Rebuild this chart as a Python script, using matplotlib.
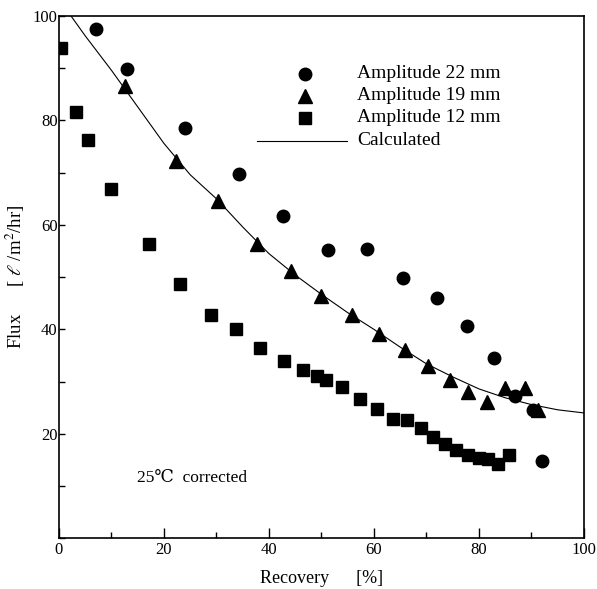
import matplotlib.pyplot as plt
from matplotlib.ticker import MultipleLocator

plt.rcParams['font.family'] = ['Liberation Serif', 'DejaVu Serif']
plt.rcParams['mathtext.fontset'] = 'stix'

# Amplitude 22 mm (circles)
amp22_x = [7.0, 12.9, 24.0, 34.3, 42.7, 51.3, 58.7, 65.5, 72.0, 77.7, 82.8, 86.9, 90.3, 92.0]
amp22_y = [97.6, 89.9, 78.5, 69.7, 61.8, 55.2, 55.3, 49.9, 46.0, 40.7, 34.5, 27.2, 24.5, 14.8]

# Amplitude 19 mm (triangles)
amp19_x = [12.6, 22.2, 30.3, 37.7, 44.1, 50.0, 55.9, 61.0, 65.9, 70.2, 74.5, 78.0, 81.6, 85.0, 88.8, 91.3]
amp19_y = [86.6, 72.3, 64.6, 56.4, 51.1, 46.4, 42.7, 39.2, 36.0, 32.9, 30.4, 28.1, 26.0, 28.7, 28.7, 24.5]

# Amplitude 12 mm (squares)
amp12_x = [0.4, 3.2, 5.6, 9.9, 17.1, 23.1, 28.9, 33.7, 38.3, 42.8, 46.5, 49.1, 50.9, 54.0,
           57.3, 60.5, 63.7, 66.2, 68.9, 71.3, 73.5, 75.6, 78.0, 80.0, 81.8, 83.7, 85.7]
amp12_y = [93.8, 81.7, 76.3, 66.8, 56.3, 48.6, 42.8, 40.0, 36.5, 33.9, 32.3, 31.0, 30.4, 28.9,
           26.6, 24.7, 22.8, 22.7, 21.2, 19.3, 18.1, 16.9, 15.9, 15.4, 15.1, 14.2, 15.9]

# Calculated curve
calc_x = [2.3, 5, 10, 15, 20, 25, 30, 35, 40, 45, 50, 55, 60, 65, 70, 75, 80, 85, 90, 95, 100]
calc_y = [100, 96.2, 89.6, 82.6, 75.6, 69.6, 65.0, 59.6, 54.5, 50.4, 46.7, 43.2, 40.0,
          36.6, 33.4, 30.9, 28.6, 26.9, 25.6, 24.6, 24.0]

fig = plt.figure(figsize=(5.97, 5.89), dpi=100)
ax = fig.add_axes([0.0988, 0.0861, 0.8794, 0.8867])

ax.plot(calc_x, calc_y, '-', color='black', linewidth=0.8)
ax.plot(amp22_x, amp22_y, 'o', color='black', markersize=9)
ax.plot(amp19_x, amp19_y, '^', color='black', markersize=9.5)
ax.plot(amp12_x, amp12_y, 's', color='black', markersize=8)

ax.set_xlim(0, 100)
ax.set_ylim(0, 100)
ax.xaxis.set_major_locator(MultipleLocator(20))
ax.xaxis.set_minor_locator(MultipleLocator(10))
ax.yaxis.set_minor_locator(MultipleLocator(10))
ax.set_yticks([20, 40, 60, 80, 100])
ax.tick_params(axis='x', which='major', direction='in', length=7, width=1, labelsize=12, pad=3)
ax.tick_params(axis='x', which='minor', direction='in', length=4, width=1)
ax.tick_params(axis='y', which='major', direction='in', length=4, width=1, labelsize=12, pad=1)
ax.tick_params(axis='y', which='minor', direction='in', length=4, width=1)
for s in ax.spines.values():
    s.set_linewidth(1.2)

ax.set_xlabel('Recovery      [%]', fontsize=13, labelpad=8)
ax.set_ylabel('Flux      [ $\\ell$ /m$^2$/hr]', fontsize=13.5, labelpad=4)

# legend drawn by hand like the original
lx, tx = 46.8, 56.8
ax.plot([lx], [88.9], 'o', color='black', markersize=9)
ax.plot([lx], [84.7], '^', color='black', markersize=9.5)
ax.plot([lx], [80.4], 's', color='black', markersize=8)
ax.plot([37.7, 54.8], [76.1, 76.1], '-', color='black', linewidth=0.8)
for y, t in zip([89.0, 84.8, 80.5, 76.2],
                ['Amplitude 22 mm', 'Amplitude 19 mm', 'Amplitude 12 mm', 'Calculated']):
    ax.text(tx, y, t, fontsize=14, va='center', ha='left')

ax.text(14.8, 11.6, '25℃  corrected', fontsize=12.5, va='center', ha='left')

fig.savefig('out.png', dpi=100)
